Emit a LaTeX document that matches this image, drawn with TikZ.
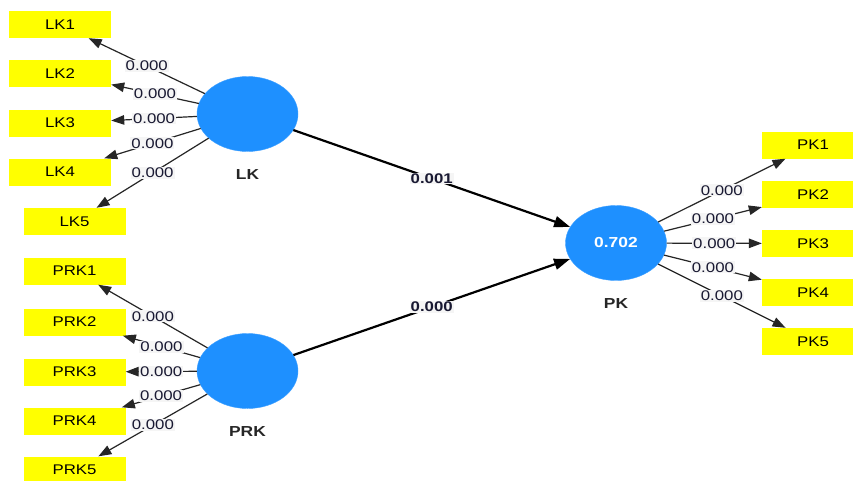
\documentclass[tikz,border=0pt]{standalone}
\usepackage{fontspec}
\setmainfont[FakeStretch=1.2]{Liberation Sans}
\usetikzlibrary{shapes.geometric,positioning,arrows.meta}
\definecolor{plsblue}{RGB}{30,144,255}
\definecolor{plsyellow}{RGB}{255,255,0}
\definecolor{valtext}{RGB}{25,25,50}
\tikzset{
  construct/.style={ellipse, fill=plsblue, draw=plsblue!85!white, minimum width=101pt, minimum height=75pt, inner sep=0pt, text=white, font=\fontsize{14.5}{16}\selectfont\bfseries},
  conname/.style={font=\fontsize{14.5}{16}\selectfont\bfseries, text=black!85},
  indicator/.style={rectangle, fill=plsyellow, minimum width=102pt, minimum height=27pt, inner sep=0pt, font=\fontsize{14}{15}\selectfont},
  loading/.style={draw=black!85, line width=1.2pt, -{Triangle[length=13pt,width=9.5pt]}},
  pathcoef/.style={draw=black, line width=2.2pt, -{Triangle[length=16pt,width=11pt]}},
  val/.style={fill=white!96!black, inner sep=1pt, text=valtext, font=\fontsize{14}{15}\selectfont},
  valb/.style={fill=white!96!black, inner sep=1pt, text=valtext, font=\fontsize{14}{15}\selectfont\bfseries}
}
\begin{document}
\begin{tikzpicture}[x=1pt,y=-1pt]
\useasboundingbox[fill=white] (0,0) rectangle (853,480);
% constructs
\node[construct] (LK) at (247.5,114) {};
\node[construct] (PRK) at (247.5,371) {};
\node[construct] (PK) at (616,243) {0.702};
\node[conname, below=14pt of LK] (LKname) {LK};
\node[conname, below=14pt of PRK] (PRKname) {PRK};
\node[conname, below=14pt of PK] (PKname) {PK};
% indicators
\node[indicator] (LK1) at (60,24.5) {LK1};
\node[indicator] (LK2) at (60,73.5) {LK2};
\node[indicator] (LK3) at (60,123) {LK3};
\node[indicator] (LK4) at (60,172) {LK4};
\node[indicator] (LK5) at (74.5,221.5) {LK5};
\node[indicator] (PRK1) at (74.5,271) {PRK1};
\node[indicator] (PRK2) at (74.5,322) {PRK2};
\node[indicator] (PRK3) at (74.5,372) {PRK3};
\node[indicator] (PRK4) at (74.5,421) {PRK4};
\node[indicator] (PRK5) at (74.5,470) {PRK5};
\node[indicator] (PK1) at (813,145) {PK1};
\node[indicator] (PK2) at (813,194.5) {PK2};
\node[indicator] (PK3) at (813,243.5) {PK3};
\node[indicator] (PK4) at (813,292.5) {PK4};
\node[indicator] (PK5) at (813,341.5) {PK5};
% outer loadings
\path[loading] (LK) -- node[val] {0.000} (LK1);
\path[loading] (LK) -- node[val] {0.000} (LK2);
\path[loading] (LK) -- node[val] {0.000} (LK3);
\path[loading] (LK) -- node[val] {0.000} (LK4);
\path[loading] (LK) -- node[val] {0.000} (LK5);
\path[loading] (PRK) -- node[val] {0.000} (PRK1);
\path[loading] (PRK) -- node[val] {0.000} (PRK2);
\path[loading] (PRK) -- node[val] {0.000} (PRK3);
\path[loading] (PRK) -- node[val] {0.000} (PRK4);
\path[loading] (PRK) -- node[val] {0.000} (PRK5);
\path[loading] (PK) -- node[val] {0.000} (PK1);
\path[loading] (PK) -- node[val] {0.000} (PK2);
\path[loading] (PK) -- node[val] {0.000} (PK3);
\path[loading] (PK) -- node[val] {0.000} (PK4);
\path[loading] (PK) -- node[val] {0.000} (PK5);
% inner paths
\path[pathcoef] (LK) -- node[valb] {0.001} (PK);
\path[pathcoef] (PRK) -- node[valb] {0.000} (PK);
\end{tikzpicture}
\end{document}
